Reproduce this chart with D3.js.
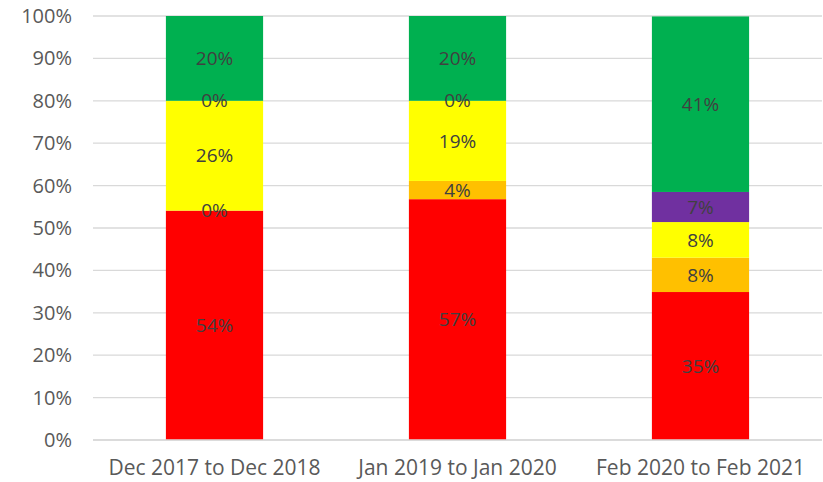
<!DOCTYPE html>
<html>
<head>
<meta charset="utf-8">
<script src="https://cdn.jsdelivr.net/npm/d3@7"></script>
<style>
  body { margin: 0; background: #fff; }
  text { font-family: "Open Sans", Lato, sans-serif; }
</style>
</head>
<body>
<div id="chart"></div>
<script>
// periods on the x axis
var periods = ["Dec 2017 to Dec 2018", "Jan 2019 to Jan 2020", "Feb 2020 to Feb 2021"];
// stacked series, bottom to top (percent)
var redVals = [54.1, 56.8, 34.9];
var orangeVals = [0, 4.3, 8.1];
var yellowVals = [25.9, 18.9, 8.4];
var purpleVals = [0, 0, 7.1];
var greenVals = [20, 20, 41.4];
var yTicks = [0, 10, 20, 30, 40, 50, 60, 70, 80, 90, 100];

var seriesNames = ["red", "orange", "yellow", "purple", "green"];
var seriesColors = ["#ff0000", "#ffc000", "#ffff00", "#7030a0", "#00b050"];
var seriesVals = [redVals, orangeVals, yellowVals, purpleVals, greenVals];

var width = 823, height = 482;
var svg = d3.select("#chart").append("svg").attr("width", width).attr("height", height);

var plotLeft = 93, plotRight = 822, plotTop = 16, plotBottom = 440;

var x = d3.scaleBand().domain(periods).range([plotLeft, plotRight]).paddingInner(0.6).paddingOuter(0.3);
var y = d3.scaleLinear().domain([0, 100]).range([plotBottom, plotTop]);

// build rows for d3.stack
var rows = periods.map(function(p, i) {
  var r = { period: p };
  seriesNames.forEach(function(n, k) { r[n] = seriesVals[k][i]; });
  return r;
});
var stacked = d3.stack().keys(seriesNames)(rows);

// gridlines
svg.append("g").selectAll("line").data(yTicks).enter().append("line")
  .attr("x1", plotLeft).attr("x2", plotRight)
  .attr("y1", function(d) { return y(d); }).attr("y2", function(d) { return y(d); })
  .attr("stroke", "#d9d9d9").attr("stroke-width", 1.3);

// y tick labels
svg.append("g").selectAll("text").data(yTicks).enter().append("text")
  .attr("x", 72).attr("y", function(d) { return y(d); })
  .attr("dy", "0.35em").attr("text-anchor", "end")
  .attr("font-size", 20).attr("fill", "#595959")
  .text(function(d) { return d + "%"; });

// bars
var layers = svg.append("g").selectAll("g").data(stacked).enter().append("g")
  .attr("fill", function(d, i) { return seriesColors[i]; });
layers.selectAll("rect").data(function(d) { return d; }).enter().append("rect")
  .attr("x", function(d) { return x(d.data.period); })
  .attr("width", x.bandwidth())
  .attr("y", function(d) { return y(d[1]); })
  .attr("height", function(d) { return y(d[0]) - y(d[1]); });

// x axis line on top of bars
svg.append("line").attr("x1", plotLeft).attr("x2", plotRight)
  .attr("y1", y(0)).attr("y2", y(0)).attr("stroke", "#d9d9d9").attr("stroke-width", 1.3);

// data labels
var labelLayers = svg.append("g").selectAll("g").data(stacked).enter().append("g");
labelLayers.selectAll("text").data(function(d) { return d; })
  .enter().append("text")
  .attr("x", function(d) { return x(d.data.period) + x.bandwidth() / 2; })
  .attr("y", function(d) { return y((d[0] + d[1]) / 2); })
  .attr("dy", "0.35em").attr("text-anchor", "middle")
  .attr("font-size", 19).attr("fill", "#404040")
  .text(function(d) { return Math.round(d[1] - d[0]) + "%"; });

// x labels
svg.append("g").selectAll("text").data(periods).enter().append("text")
  .attr("x", function(d) { return x(d) + x.bandwidth() / 2; })
  .attr("y", 468).attr("dy", "0.35em").attr("text-anchor", "middle")
  .attr("font-size", 21).attr("fill", "#595959")
  .text(function(d) { return d; });
</script>
</body>
</html>
